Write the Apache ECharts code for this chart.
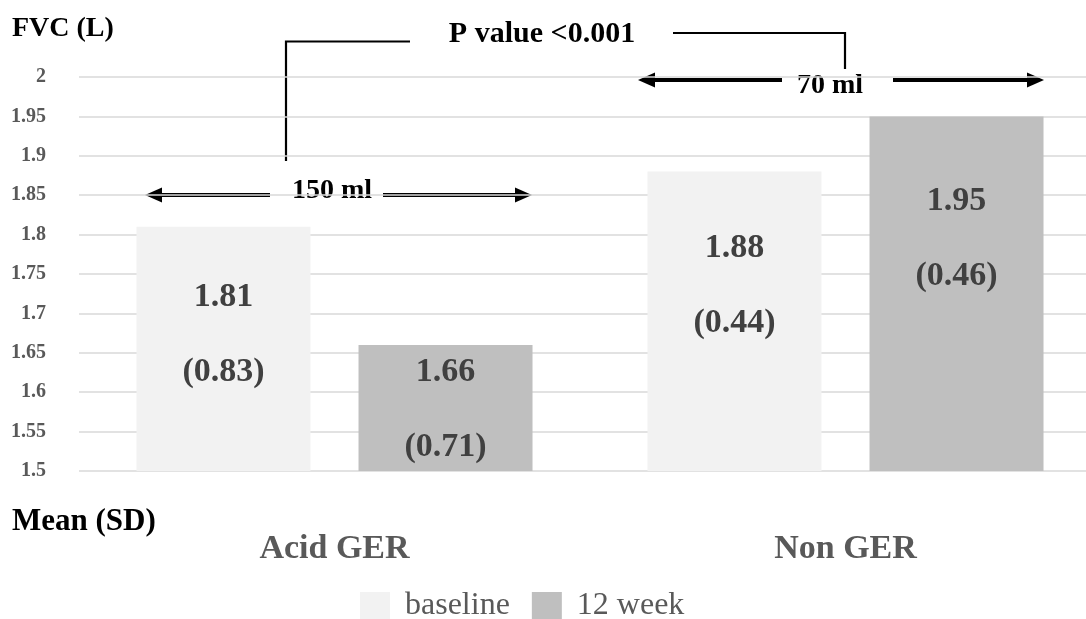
<!DOCTYPE html>
<html>
<head>
<meta charset="utf-8">
<script src="https://cdn.jsdelivr.net/npm/echarts@6/dist/echarts.min.js"></script>
<style>
  html, body { margin: 0; padding: 0; background: #fff; }
  #chart { width: 1086px; height: 619px; }
</style>
</head>
<body>
<div id="chart"></div>
<script>
// data
const groups = ['Acid GER', 'Non GER'];
const baselineMean = [1.81, 1.88];
const baselineSD = [0.83, 0.44];
const week12Mean = [1.66, 1.95];
const week12SD = [0.71, 0.46];
const yTicks = [1.5, 2, 0.05]; // min, max, step

// label nudges (px) relative to bar centre
const baselineNudge = [-14, -36];
const week12Nudge = [2, -55];

const FONT = '"Liberation Serif", "Times New Roman", serif';

function barData(means, sds, nudges) {
    return means.map((v, i) => ({
        value: v,
        sd: sds[i],
        label: { offset: [0, nudges[i]] }
    }));
}

function labelText(p) {
    return '{v|' + p.value.toFixed(2) + '}\n{v|(' + p.data.sd.toFixed(2) + ')}';
}

// double headed arrow, gap in the middle for the text
function arrow(x1, x2, gapL, gapR, y, text, textX, textY, textW) {
    const lw = 4, hl = 17, hh = 7.5;
    return [
        { type: 'rect', shape: { x: x1 + hl - 1, y: y - lw / 2, width: gapL - x1 - hl + 1, height: lw }, style: { fill: '#000' } },
        { type: 'rect', shape: { x: gapR, y: y - lw / 2, width: x2 - hl + 1 - gapR, height: lw }, style: { fill: '#000' } },
        { type: 'polygon', shape: { points: [[x1, y], [x1 + hl, y - hh], [x1 + hl, y + hh]] }, style: { fill: '#000' } },
        { type: 'polygon', shape: { points: [[x2, y], [x2 - hl, y - hh], [x2 - hl, y + hh]] }, style: { fill: '#000' } },
        // white box behind the text so the gridline doesn't run through it
        { type: 'rect', shape: { x: textX - textW / 2, y: textY - 13, width: textW, height: 26 }, style: { fill: '#fff' } },
        { type: 'text', style: { text: text, x: textX, y: textY, textAlign: 'center', textVerticalAlign: 'middle',
            fontFamily: FONT, fontWeight: 'bold', fontSize: 28, fill: '#000' } }
    ];
}

const chart = echarts.init(document.getElementById('chart'));

const labelStyle = {
    show: true,
    position: 'inside',
    formatter: labelText,
    rich: {
        v: { fontFamily: FONT, fontWeight: 'bold', fontSize: 34, color: '#404040', lineHeight: 75 }
    }
};

const option = {
    backgroundColor: '#fff',
    animation: false,
    grid: { left: 79, top: 77, height: 394, width: 1022, outerBoundsMode: 'none', containLabel: false },
    legend: {
        data: ['baseline', '12 week'],
        left: 360,
        top: 590,
        padding: 0,
        itemWidth: 30,
        itemHeight: 28,
        itemGap: 22,
        icon: 'rect',
        textStyle: { fontFamily: FONT, fontSize: 32, color: '#595959', padding: [0, 0, 0, 10] }
    },
    xAxis: {
        type: 'category',
        data: groups,
        axisLine: { show: false },
        axisTick: { show: false },
        axisLabel: { margin: 61, fontFamily: FONT, fontWeight: 'bold', fontSize: 34, color: '#595959', lineHeight: 34 }
    },
    yAxis: {
        type: 'value',
        min: yTicks[0],
        max: yTicks[1],
        interval: yTicks[2],
        axisLine: { show: false },
        axisTick: { show: false },
        splitLine: { lineStyle: { color: '#d9d9d9', width: 1.5 } },
        axisLabel: {
            margin: 33,
            fontFamily: FONT, fontWeight: 'bold', fontSize: 20, color: '#595959',
            formatter: v => String(parseFloat(v.toFixed(2)))
        }
    },
    series: [
        {
            name: 'baseline',
            type: 'bar',
            barWidth: 174,
            barGap: '27.6%',
            itemStyle: { color: '#f2f2f2' },
            label: labelStyle,
            data: barData(baselineMean, baselineSD, baselineNudge)
        },
        {
            name: '12 week',
            type: 'bar',
            barWidth: 174,
            itemStyle: { color: '#bfbfbf' },
            label: labelStyle,
            data: barData(week12Mean, week12SD, week12Nudge)
        }
    ],
    graphic: [
        { type: 'text', style: { text: 'FVC (L)', x: 12, y: 29, textVerticalAlign: 'middle',
            fontFamily: FONT, fontWeight: 'bold', fontSize: 28, fill: '#000' } },
        { type: 'text', style: { text: 'Mean (SD)', x: 12, y: 522, textVerticalAlign: 'middle',
            fontFamily: FONT, fontWeight: 'bold', fontSize: 31, fill: '#000' } },
        { type: 'text', style: { text: 'P value <0.001', x: 542, y: 34, textAlign: 'center', textVerticalAlign: 'middle',
            fontFamily: FONT, fontWeight: 'bold', fontSize: 30, fill: '#000' } },
        { type: 'polyline', shape: { points: [[286, 161], [286, 41.5], [410, 41.5]] }, style: { stroke: '#000', lineWidth: 2.2, fill: null } },
        { type: 'polyline', shape: { points: [[673, 33], [845, 33], [845, 69]] }, style: { stroke: '#000', lineWidth: 2.2, fill: null } }
    ]
        .concat(arrow(145, 532, 270, 383, 195, '150 ml', 332, 191, 82))
        .concat(arrow(638, 1044, 782, 893, 80, '70 ml', 830, 86, 68))
};

chart.setOption(option);
</script>
</body>
</html>
